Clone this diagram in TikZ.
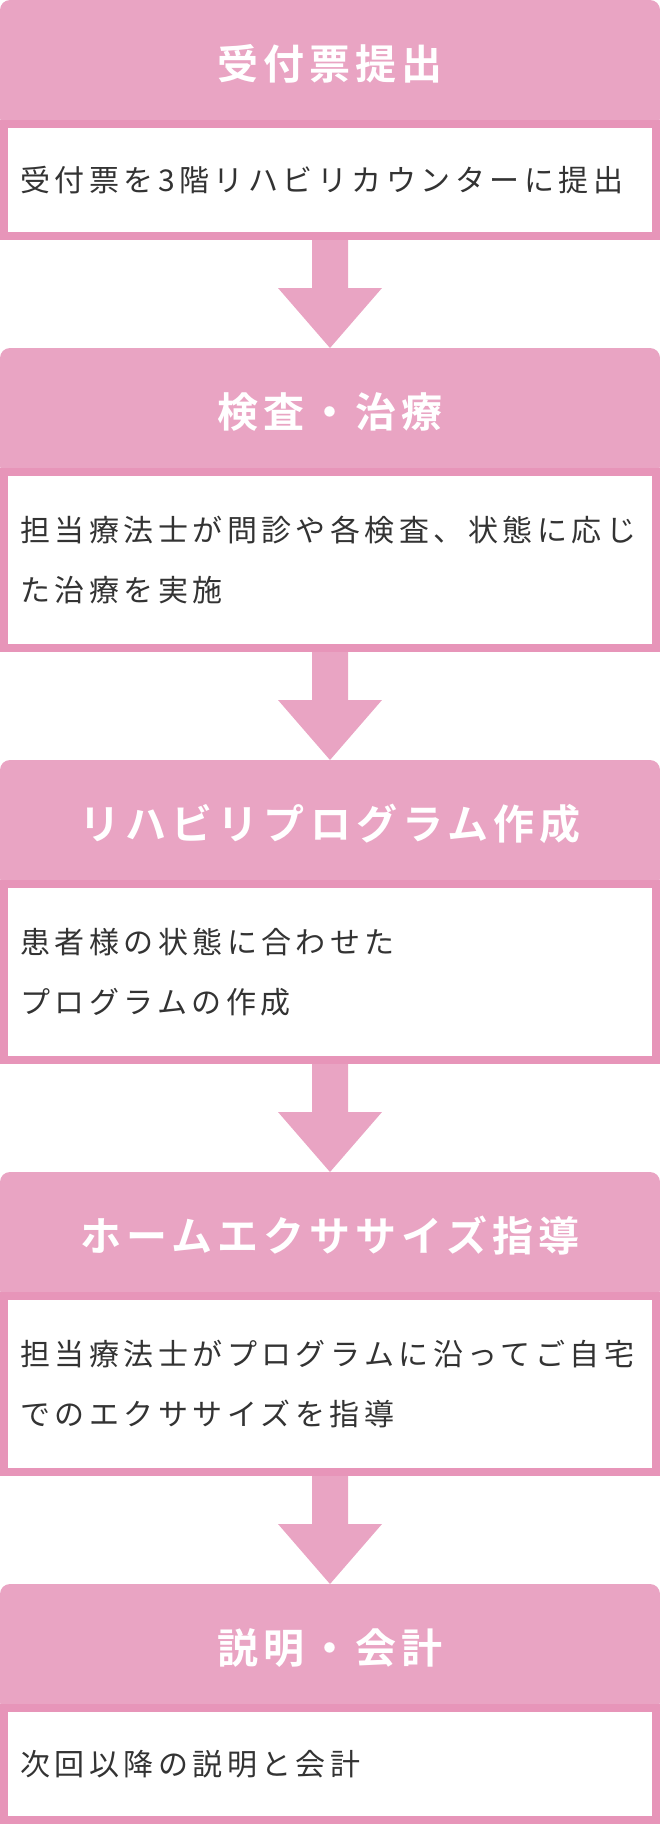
\documentclass[tikz,border=0pt]{standalone}
\usepackage{fontspec}
\setmainfont{Noto Sans CJK JP}
\newfontfamily\headfont{Noto Sans CJK JP Bold}[LetterSpace=12.5]
\newfontfamily\bodyfont{Noto Sans CJK JP}[LetterSpace=15]
\usepackage{tikz}
\usetikzlibrary{positioning,calc}
\definecolor{headpink}{RGB}{233,164,195}
\definecolor{edgepink}{RGB}{231,149,185}
\definecolor{bodytext}{RGB}{51,51,51}

\begin{document}
\begin{tikzpicture}[
  x=1pt, y=-1pt,
  head/.style={fill=headpink, rounded corners=10pt, minimum width=660pt, minimum height=128pt,
    inner sep=0pt, outer sep=0pt, text=white, font=\headfont\fontsize{41pt}{41pt}\selectfont},
  body/.style={draw=edgepink, line width=8pt, fill=white, minimum width=652pt, inner xsep=16pt,
    inner ysep=0pt, text width=620pt, align=left, text=bodytext,
    font=\bodyfont\fontsize{30pt}{60pt}\selectfont},
  one/.style={body, minimum height=112pt},
  two/.style={body, minimum height=176pt},
  ar/.style={fill=headpink}
]
\useasboundingbox (0,0) rectangle (660,1824);

\node[head, anchor=north] (hd1) at (330,0) {受付票提出};
\node[one, below=-8pt of hd1] (b1) {受付票を3階リハビリカウンターに提出};

\node[head, below=108pt of b1] (hd2) {検査・治療};
\node[two, below=-8pt of hd2] (b2) {担当療法士が問診や各検査、状態に応じ\\た治療を実施};

\node[head, below=108pt of b2] (hd3) {リハビリプログラム作成};
\node[two, below=-8pt of hd3] (b3) {患者様の状態に合わせた\\プログラムの作成};

\node[head, below=108pt of b3] (hd4) {ホームエクササイズ指導};
\node[two, below=-8pt of hd4] (b4) {担当療法士がプログラムに沿ってご自宅\\でのエクササイズを指導};

\node[head, below=108pt of b4] (hd5) {説明・会計};
\node[one, below=-8pt of hd5] (b5) {次回以降の説明と会計};

% block arrows between the steps
\foreach \a/\b in {b1/hd2, b2/hd3, b3/hd4, b4/hd5}
  \fill[ar] ([xshift=-18pt]\a.south) -- ([xshift=-18pt,yshift=60pt]\b.north)
    -- ([xshift=-52pt,yshift=60pt]\b.north) -- (\b.north)
    -- ([xshift=52pt,yshift=60pt]\b.north) -- ([xshift=18pt,yshift=60pt]\b.north)
    -- ([xshift=18pt]\a.south) -- cycle;
\end{tikzpicture}
\end{document}
